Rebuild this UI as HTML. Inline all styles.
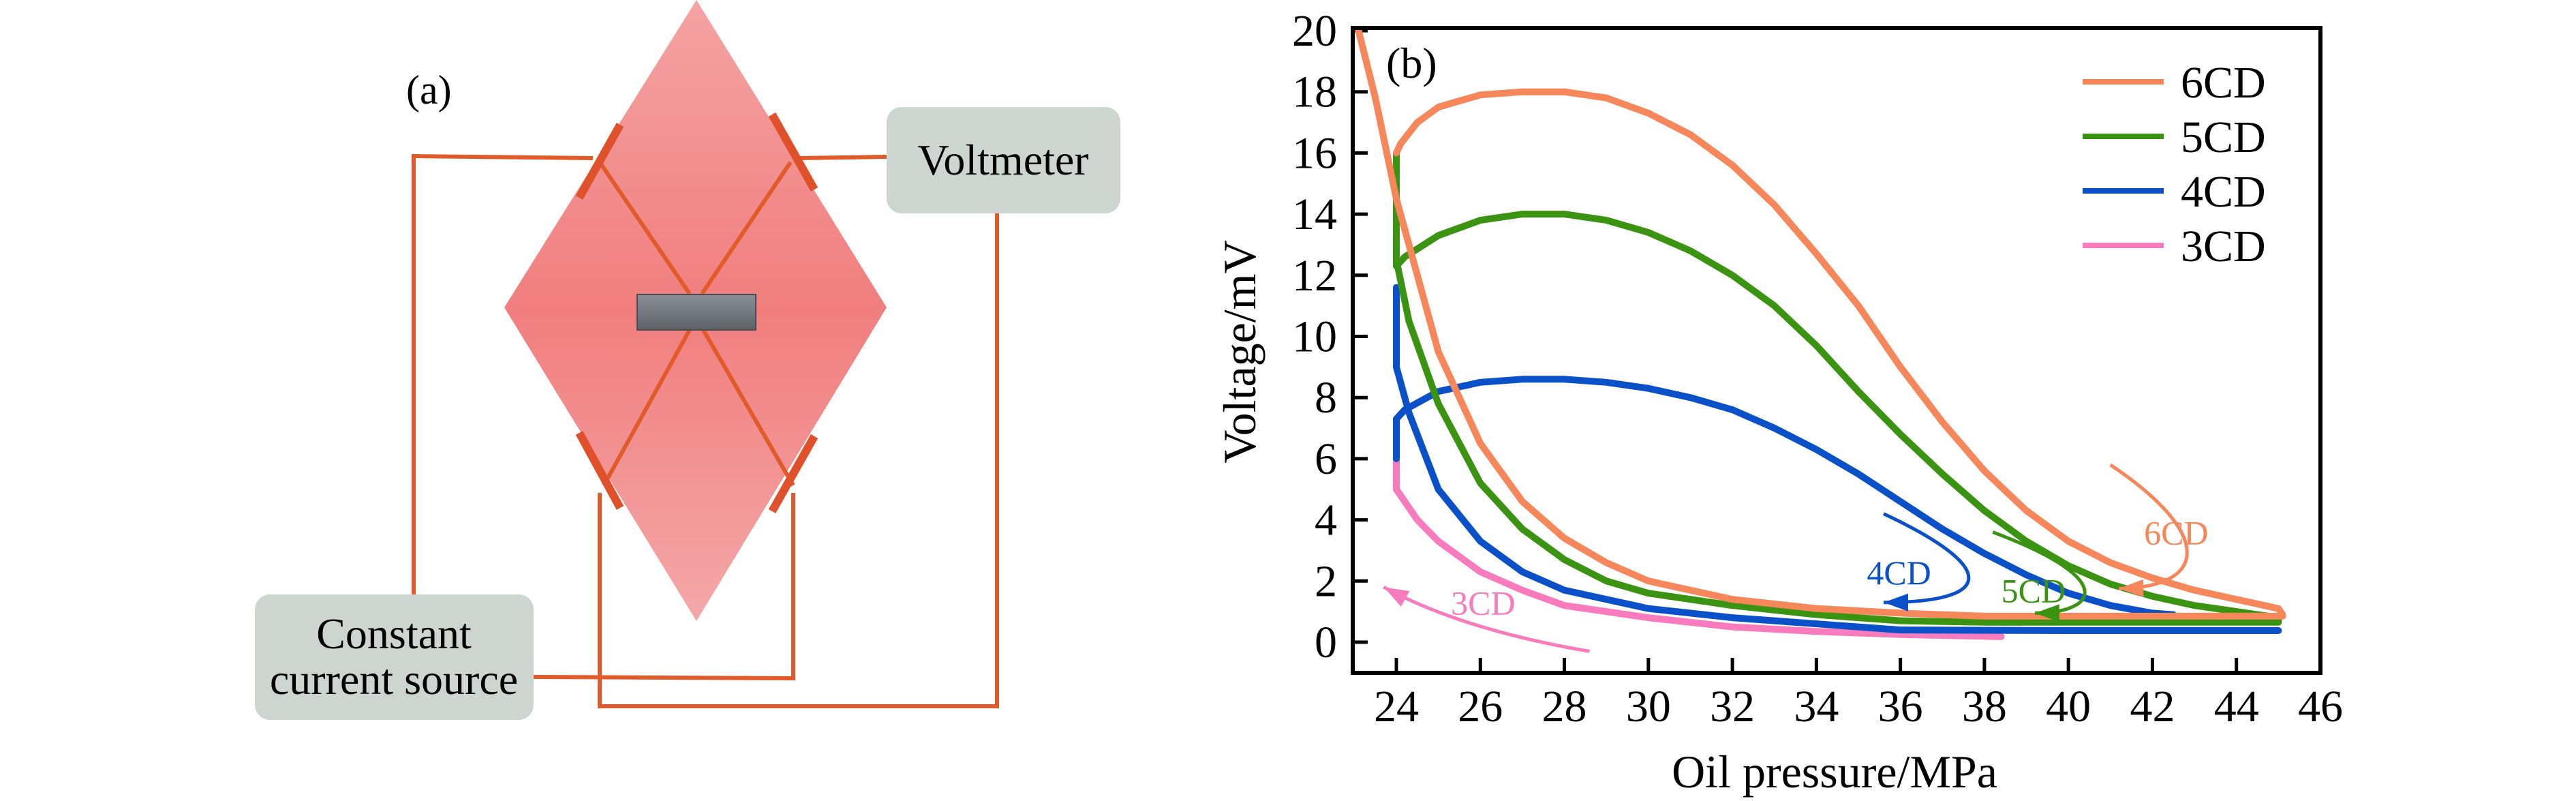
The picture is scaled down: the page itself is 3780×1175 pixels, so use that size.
<!DOCTYPE html>
<html><head><meta charset="utf-8"><style>
html,body{margin:0;padding:0;background:#fff}
svg{display:block}
svg text{font-family:"Liberation Serif","Times New Roman",serif !important}
</style></head><body>
<svg id="fig" width="3780" height="1175" viewBox="0 0 3780 1175" xmlns="http://www.w3.org/2000/svg" font-family="Liberation Serif, serif">
<defs>
<linearGradient id="dg" x1="0" y1="0" x2="0" y2="1">
<stop offset="0" stop-color="#f4a3a3"/><stop offset="0.5" stop-color="#f17e7e"/><stop offset="1" stop-color="#f4a8a8"/>
</linearGradient>
<linearGradient id="rg" x1="0" y1="0" x2="0" y2="1">
<stop offset="0" stop-color="#8a9196"/><stop offset="1" stop-color="#5c6166"/>
</linearGradient>
</defs>
<g>
<text x="596" y="152" font-size="60" font-family="Liberation Serif, serif">(a)</text>
<polygon points="1022,0 1301,451 1022,911 740,451" fill="url(#dg)"/>
<g fill="none" stroke="#e05a2a" stroke-width="6">
<polyline points="870,232 607,229 607,872"/>
<polyline points="1170,232 1301,230"/>
<polyline points="1463,313 1463,1036 880,1036 880,723"/>
<polyline points="1164,723 1164,995 783,993"/>
<line x1="880" y1="238" x2="1012" y2="431"/>
<line x1="1032" y1="484" x2="1164" y2="712"/>
<line x1="1160" y1="238" x2="1030" y2="431"/>
<line x1="1012" y1="484" x2="886" y2="712"/>
</g>
<g stroke="#e0502a" stroke-width="12">
<line x1="910" y1="183" x2="850" y2="290"/>
<line x1="1133" y1="168" x2="1195" y2="278"/>
<line x1="850" y1="635" x2="910" y2="745"/>
<line x1="1195" y1="640" x2="1133" y2="750"/>
</g>
<rect x="935" y="432" width="174" height="52" fill="url(#rg)" stroke="#4a4e52" stroke-width="2"/>
<rect x="1301" y="157" width="343" height="156" rx="22" fill="#ccd5cf"/>
<text x="1472" y="256" font-size="64" text-anchor="middle" font-family="Liberation Serif, serif">Voltmeter</text>
<rect x="374" y="872" width="409" height="184" rx="22" fill="#ccd5cf"/>
<text x="578" y="951" font-size="64" text-anchor="middle" font-family="Liberation Serif, serif">Constant</text>
<text x="578" y="1018" font-size="64" text-anchor="middle" font-family="Liberation Serif, serif">current source</text>
</g>
<g id="chart" font-family="Liberation Serif, serif"></g>
</svg>
<script>
const xTicks=[24,26,28,30,32,34,36,38,40,42,44,46];
const yTicks=[0,2,4,6,8,10,12,14,16,18,20];
const seriesNames=["6CD","5CD","4CD","3CD"];
const seriesColors=["#f5875a","#3a9412","#0a50c8","#f77bbd"];
const x6=[24,24.1,24.5,25,26,27,28,29,30,31,32,33,34,35,36,37,38,39,40,41,42,43,44,45,45.1,45.1,42,38,36,34,32,30,29,28,27,26,25,24.5,24,23.5,23.1];
const y6=[16,16.3,17,17.5,17.9,18,18,17.8,17.3,16.6,15.6,14.3,12.7,11,9,7.2,5.6,4.3,3.3,2.6,2.1,1.7,1.4,1.1,0.9,0.85,0.85,0.85,0.95,1.1,1.4,2.0,2.6,3.4,4.6,6.5,9.5,12,14.5,17.8,20];
const x5=[24,24,24.2,25,26,27,28,29,30,31,32,33,34,35,36,37,38,39,40,41,42,43,44,45,45,42,38,36,34,32,30,29,28,27,26,25,24.3,24];
const y5=[16,12.3,12.6,13.3,13.8,14,14,13.8,13.4,12.8,12,11,9.7,8.2,6.8,5.5,4.3,3.3,2.5,1.9,1.5,1.2,1.0,0.8,0.65,0.65,0.65,0.7,0.9,1.2,1.6,2.0,2.7,3.7,5.2,7.8,10.5,12.5];
const x4=[24,24,24.2,25,26,27,28,29,30,31,32,33,34,35,36,37,38,39,40,41,42,42.5];
const y4=[6,7.3,7.6,8.2,8.5,8.6,8.6,8.5,8.3,8.0,7.6,7.0,6.3,5.5,4.6,3.7,2.9,2.2,1.6,1.2,0.95,0.9];
const x4b=[45,40,36,34,32,30,28,27,26,25,24.3,24,24];
const y4b=[0.38,0.38,0.4,0.6,0.8,1.1,1.7,2.3,3.3,5.0,7.5,9,11.6];
const x3=[24,24,24.5,25,26,27,28,30,32,34,36,38.4];
const y3=[6,5,4,3.3,2.3,1.7,1.2,0.8,0.5,0.35,0.25,0.18];
const xDomain=[24,46], yDomain=[0,20];
const X0=2049,X1=3405,Y0=942,Y1=45;
const sx=v=>X0+(v-xDomain[0])/(xDomain[1]-xDomain[0])*(X1-X0);
const sy=v=>Y0-(v-yDomain[0])/(yDomain[1]-yDomain[0])*(Y0-Y1);
const NS="http://www.w3.org/2000/svg";
const g=document.getElementById('chart');
function mk(tag,attrs,parent){const e=document.createElementNS(NS,tag);for(const k in attrs)e.setAttribute(k,attrs[k]);(parent||g).appendChild(e);return e;}
function pts(xs,ys){return xs.map((x,i)=>sx(x).toFixed(1)+","+sy(ys[i]).toFixed(1)).join(" ");}
const fr=mk('rect',{x:1985,y:41,width:1420,height:946,fill:'none',stroke:'#000','stroke-width':6});


xTicks.forEach(t=>{
 const l=mk('line',{x1:sx(t),x2:sx(t),y1:987,y2:965,stroke:'#000','stroke-width':5});
 
 
 const tx=mk('text',{x:sx(t),y:1058,'font-size':66,'text-anchor':'middle'});tx.textContent=t;
 
 
});
yTicks.forEach(t=>{
 const l=mk('line',{x1:1985,x2:2007,y1:sy(t),y2:sy(t),stroke:'#000','stroke-width':5});
 
 
 const tx=mk('text',{x:1962,y:sy(t)+22,'font-size':66,'text-anchor':'end'});tx.textContent=t;
 
 
});
const xt=mk('text',{x:2692,y:1155,'font-size':68,'text-anchor':'middle'});xt.textContent='Oil pressure/MPa';


const yt=mk('text',{x:0,y:0,'font-size':68,'text-anchor':'middle',transform:'translate(1842,516) rotate(-90)'});yt.textContent='Voltage/mV';


const pb=mk('text',{x:2034,y:114,'font-size':64});pb.textContent='(b)';


const clip=mk('clipPath',{id:'pc'});mk('rect',{x:1988,y:44,width:1414,height:940},clip);
const lg=mk('g',{'clip-path':'url(#pc)'});
function line(xs,ys,c,name){const p=mk('polyline',{points:pts(xs,ys),fill:'none',stroke:c,'stroke-width':10,'stroke-linejoin':'round','stroke-linecap':'round'},lg);
 
 }
line(x3,y3,seriesColors[3],'series-3cd');
line(x4,y4,seriesColors[2],'series-4cd-loading');
line(x4b,y4b,seriesColors[2],'series-4cd-unloading');
line(x5,y5,seriesColors[1],'series-5cd');
line(x6,y6,seriesColors[0],'series-6cd');
seriesNames.forEach((n,i)=>{
 const y=120+i*80;
 const l=mk('line',{x1:3056,x2:3175,y1:y,y2:y,stroke:seriesColors[i],'stroke-width':8});
 
 
 const t=mk('text',{x:3200,y:y+23,'font-size':66});t.textContent=n;
 
 
});
const ann=[
 {n:'6CD',c:seriesColors[0],d:[[41,5.8],[43.5,3.5],[43.3,1.8],[41.2,1.75]],lx:41.8,ly:3.2},
 {n:'5CD',c:seriesColors[1],d:[[38.2,3.6],[41.3,2],[40.6,0.95],[39.2,0.95]],lx:38.4,ly:1.3},
 {n:'4CD',c:seriesColors[2],d:[[35.6,4.2],[38.4,2.4],[38.2,1.3],[35.6,1.3]],lx:35.2,ly:1.9},
 {n:'3CD',c:seriesColors[3],d:[[28.6,-0.3],[26,0.3],[24.5,1.2],[23.7,1.8]],lx:25.3,ly:0.9}
];
ann.forEach(a=>{
 const p=a.d.map(q=>[sx(q[0]),sy(q[1])]);
 const path=mk('path',{d:`M${p[0]} C${p[1]} ${p[2]} ${p[3]}`,fill:'none',stroke:a.c,'stroke-width':5});
 
 
 const dx=p[3][0]-p[2][0],dy=p[3][1]-p[2][1],L=Math.hypot(dx,dy),ux=dx/L,uy=dy/L;
 const tip=p[3],b=[tip[0]-ux*36,tip[1]-uy*36];
 const h=mk('polygon',{points:`${tip} ${b[0]-uy*13},${b[1]+ux*13} ${b[0]+uy*13},${b[1]-ux*13}`,fill:a.c});
 
 
 const t=mk('text',{x:sx(a.lx),y:sy(a.ly),'font-size':50,fill:a.c});t.textContent=a.n;
 
 
});
</script>
</body></html>
